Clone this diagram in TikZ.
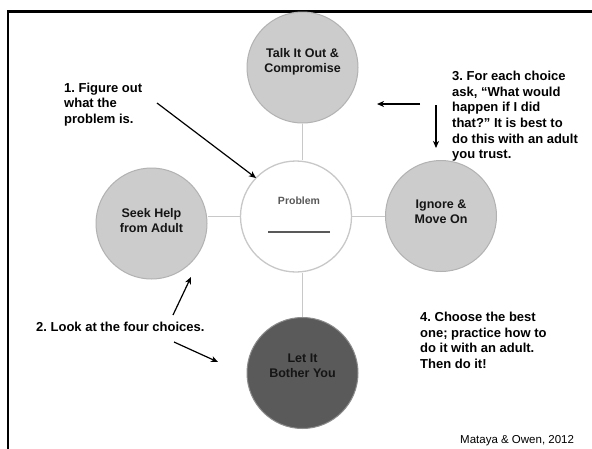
\documentclass[tikz,border=0pt]{standalone}
\usepackage{fontspec}
\setmainfont{Liberation Sans}
\usetikzlibrary{arrows.meta}
\definecolor{choicefill}{HTML}{CCCCCC}
\definecolor{choiceedge}{HTML}{B2B2B2}
\definecolor{darkfill}{HTML}{5A5A5A}
\definecolor{darkedge}{HTML}{8C8C8C}
\definecolor{linkgray}{HTML}{C8C8C8}
\definecolor{labelgray}{HTML}{151515}
\frenchspacing
\begin{document}
\begin{tikzpicture}[x=1pt,y=-1pt,
  choice/.style={circle,minimum size=111pt,inner sep=0pt,fill=choicefill,draw=choiceedge,line width=1pt},
  darkchoice/.style={choice,fill=darkfill,draw=darkedge},
  hub/.style={circle,minimum size=111pt,inner sep=0pt,fill=white,draw=linkgray,line width=1.3pt},
  link/.style={draw=linkgray,line width=1.5pt},
  circletext/.style={font=\bfseries\fontsize{12.5}{15}\selectfont,align=center,text=labelgray,inner sep=0pt},
  note/.style={font=\bfseries\fontsize{13}{15.6}\selectfont,align=left,anchor=north west,inner sep=0pt},
  pointer/.style={draw=black,line width=1.2pt,-{Stealth[length=7pt,width=6pt,inset=2pt]}}]
% canvas
\useasboundingbox (0,0) rectangle (592,448);
\fill[white] (0,0) rectangle (592,448);
% slide frame
\draw[line width=2.2pt,line cap=rect] (8,449) -- (8,11.5) -- (593,11.5);

% circles
\node[choice] (talk) at (302.5,67.5) {};
\node[choice] (seek) at (151.5,223.5) {};
\node[choice] (ignore) at (441,216) {};
\node[darkchoice] (bother) at (302.5,373) {};
\node[hub] (prob) at (296,216.5) {};

% links between the hub and the choices
\draw[link] (talk.south) -- (talk.south |- prob.north);
\draw[link] (bother.north) -- (bother.north |- prob.south);
\draw[link] (prob.west) -- (prob.west -| seek.east);
\draw[link] (prob.east) -- (prob.east -| ignore.west);

% circle labels
\node[circletext] (talktext) at ([yshift=5.5pt]talk) {Talk It Out \&\\Compromise};
\node[circletext] (seektext) at ([yshift=3pt]seek) {Seek Help\\from Adult};
\node[circletext] (ignoretext) at ([yshift=4pt]ignore) {Ignore \&\\Move On};
\node[circletext] (bothertext) at ([yshift=7pt]bother) {Let It\\Bother You};
\node[font=\bfseries\fontsize{10.5}{12}\selectfont,text=black!65,inner sep=0pt] (probtext) at (299,200.5) {Problem};
\coordinate (ulA) at (268,232);
\coordinate (ulB) at (330,232);
\draw[black!65,line width=1.2pt] (ulA) -- (ulB);

% step notes
\node[note] (n1) at (64,82.5) {1. Figure out\\what the\\problem is.};
\node[note] (n3) at (452,71) {3. For each choice\\ask, “What would\\happen if I did\\that?” It is best to\\do this with an adult\\you trust.};
\node[note] (n2) at (36,322) {2. Look at the four choices.};
\node[note] (n4) at (420,312) {4. Choose the best\\one; practice how to\\do it with an adult.\\Then do it!};
\node[font=\fontsize{11.5}{14}\selectfont,anchor=base west,inner sep=0pt] (credit) at (460,443) {Mataya \& Owen, 2012};

% pointer arrows
\coordinate (a1s) at (157,103);  \coordinate (a1e) at (256,178);
\coordinate (a3s) at (420,104);  \coordinate (a3e) at (377,104);
\coordinate (a4s) at (436,105);  \coordinate (a4e) at (436,148);
\coordinate (a2s) at (173,315);  \coordinate (a2e) at (191,277);
\coordinate (a5s) at (174,342);  \coordinate (a5e) at (218,362);
\draw[pointer] (a1s) -- (a1e);
\draw[pointer] (a3s) -- (a3e);
\draw[pointer] (a4s) -- (a4e);
\draw[pointer] (a2s) -- (a2e);
\draw[pointer] (a5s) -- (a5e);
\end{tikzpicture}
\end{document}
